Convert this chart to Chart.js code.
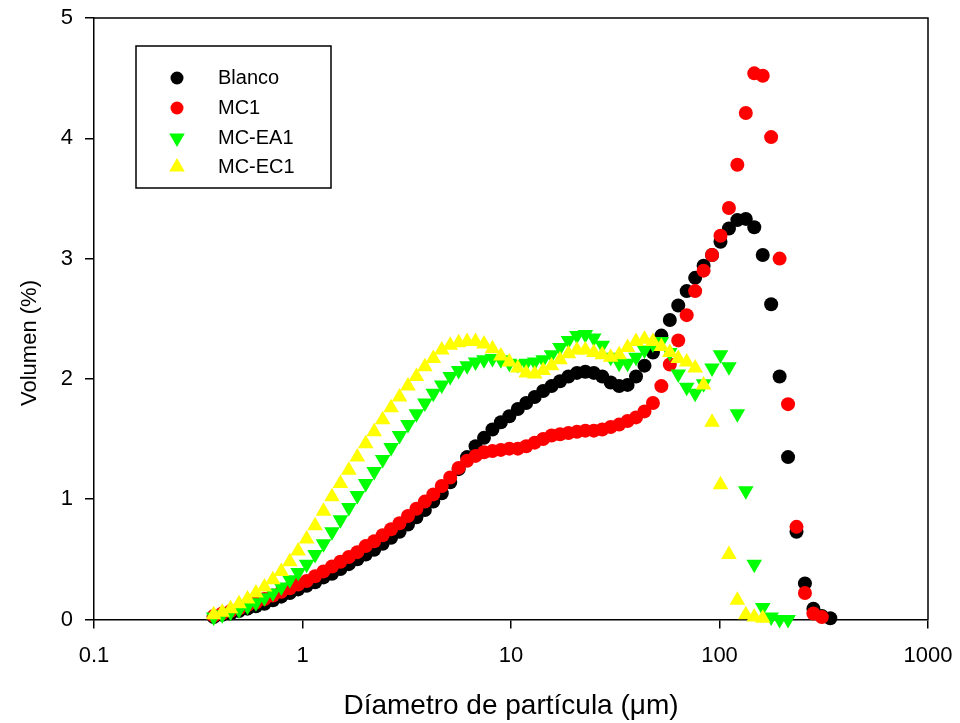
<!DOCTYPE html>
<html><head><meta charset="utf-8">
<script src="https://cdn.jsdelivr.net/npm/chart.js@4.4.1/dist/chart.umd.min.js"></script>
<style>html,body{margin:0;padding:0;background:#fff;} #wrap{width:960px;height:723px;position:relative;}</style>
</head><body><div id="wrap"><canvas id="c" width="960" height="723"></canvas></div>
<script>
// Particle size channels (µm)
const sizes = [0.375,0.412,0.452,0.496,0.545,0.598,0.657,0.721,0.791,0.869,0.953,1.047,1.149,1.261,1.385,1.520,1.668,1.832,2.010,2.207,2.423,2.660,2.920,3.205,3.519,3.863,4.240,4.655,5.110,5.610,6.158,6.760,7.421,8.147,8.943,9.817,10.78,11.83,12.99,14.26,15.65,17.18,18.86,20.71,22.73,24.95,27.39,30.07,33.01,36.24,39.78,43.67,47.94,52.62,57.77,63.41,69.61,76.42,83.89,92.09,101.1,111.0,121.8,133.7,146.8,161.2,176.9,194.2,213.2,234.1,256.9,282.1,309.6,339.9];

// Volume (%) per series
const blanco = [0.02,0.04,0.05,0.07,0.09,0.11,0.13,0.16,0.19,0.22,
  0.25,0.28,0.31,0.35,0.38,0.42,0.46,0.50,0.54,0.58,
  0.63,0.68,0.73,0.79,0.85,0.91,0.98,1.05,1.14,1.25,
  1.35,1.44,1.51,1.58,1.64,1.69,1.75,1.80,1.85,1.90,
  1.94,1.98,2.02,2.05,2.06,2.05,2.02,1.97,1.94,1.95,
  2.02,2.11,2.22,2.36,2.49,2.61,2.73,2.84,2.94,3.03,
  3.14,3.25,3.32,3.33,3.26,3.03,2.62,2.02,1.35,0.73,
  0.30,0.09,0.03,0.01];
const mc1 = [0.03,0.05,0.07,0.09,0.12,0.14,0.17,0.20,0.23,0.26,
  0.29,0.32,0.36,0.40,0.44,0.48,0.52,0.56,0.61,0.65,
  0.70,0.75,0.80,0.86,0.92,0.98,1.04,1.11,1.18,1.26,
  1.32,1.36,1.39,1.40,1.41,1.42,1.42,1.44,1.47,1.50,
  1.53,1.54,1.55,1.56,1.57,1.57,1.58,1.60,1.62,1.65,
  1.68,1.73,1.80,1.94,2.12,2.32,2.53,2.73,2.90,3.03,
  3.19,3.42,3.78,4.21,4.54,4.52,4.01,3.00,1.79,0.77,
  0.22,0.05,0.02];
const mcEA1 = [0.02,0.04,0.06,0.08,0.11,0.14,0.18,0.22,0.27,0.33,
  0.39,0.46,0.54,0.63,0.73,0.83,0.93,1.03,1.13,1.23,
  1.33,1.43,1.53,1.62,1.71,1.80,1.88,1.95,2.02,2.07,
  2.11,2.14,2.16,2.17,2.16,2.13,2.12,2.13,2.14,2.16,
  2.20,2.26,2.32,2.36,2.37,2.34,2.28,2.18,2.13,2.13,
  2.18,2.24,2.29,2.31,2.22,2.04,1.93,1.88,1.96,2.09,
  2.20,2.10,1.71,1.07,0.46,0.10,0.02,0.00,0.00];
const mcEC1 = [0.04,0.06,0.09,0.13,0.17,0.22,0.27,0.33,0.40,0.48,
  0.57,0.67,0.78,0.90,1.02,1.13,1.24,1.35,1.46,1.56,
  1.66,1.76,1.85,1.94,2.02,2.10,2.17,2.24,2.28,2.30,
  2.31,2.31,2.29,2.25,2.19,2.14,2.09,2.05,2.04,2.07,
  2.11,2.16,2.21,2.24,2.24,2.22,2.20,2.18,2.20,2.26,
  2.31,2.33,2.31,2.27,2.22,2.17,2.14,2.09,1.95,1.64,
  1.12,0.54,0.16,0.04,0.02,0.01];

const seriesNames = ['Blanco','MC1','MC-EA1','MC-EC1'];
const xTicks = [0.1, 1, 10, 100, 1000];
const yTicks = [0, 1, 2, 3, 4, 5];
const xTitle = 'Díametro de partícula (μm)';
const yTitle = 'Volumen (%)';

const FONT = "'Liberation Sans', Arial, sans-serif";
function pts(vals){ return vals.map((v,i)=>({x:sizes[i], y:v})); }

const styles = [
  {color:'#000000', pointStyle:'circle', rotation:0, radius:7, order:4},
  {color:'#ff0000', pointStyle:'circle', rotation:0, radius:7, order:3},
  {color:'#00ff00', pointStyle:'triangle', rotation:180, radius:9, order:2},
  {color:'#ffff00', pointStyle:'triangle', rotation:0, radius:9, order:1}
];
const allVals = [blanco, mc1, mcEA1, mcEC1];

const framePlugin = {
  id:'frame',
  beforeDatasetsDraw(chart){
    const {ctx, chartArea:a} = chart;
    ctx.save();
    ctx.strokeStyle = '#000'; ctx.lineWidth = 1.5;
    ctx.beginPath();
    ctx.moveTo(a.left, a.top); ctx.lineTo(a.right, a.top); ctx.lineTo(a.right, a.bottom);
    ctx.stroke();
    // y axis title
    ctx.fillStyle = '#000';
    ctx.font = '22px ' + FONT;
    ctx.translate(30, 343);
    ctx.rotate(-Math.PI/2);
    ctx.textAlign = 'center'; ctx.textBaseline = 'middle';
    ctx.fillText(yTitle, 0, 0);
    ctx.restore();
  },
  afterDraw(chart){
    const ctx = chart.ctx;
    ctx.save();
    ctx.fillStyle = '#fff';
    ctx.fillRect(136, 46, 195, 142);
    ctx.strokeStyle = '#000'; ctx.lineWidth = 1.5;
    ctx.strokeRect(136, 46, 195, 142);
    const rowsY = [78, 108, 138, 167];
    seriesNames.forEach((name, i) => {
      const s = styles[i];
      ctx.fillStyle = s.color;
      Chart.helpers.drawPoint(ctx, {pointStyle:s.pointStyle, rotation:s.rotation, radius: s.pointStyle==='circle'?6.5:9, borderWidth:0}, 177, rowsY[i]);
      ctx.fillStyle = '#000';
      ctx.font = '20px ' + FONT;
      ctx.textAlign = 'left'; ctx.textBaseline = 'middle';
      ctx.fillText(name, 218, rowsY[i]);
    });
    ctx.restore();
  }
};

new Chart(document.getElementById('c'), {
  type:'scatter',
  data:{ datasets: seriesNames.map((name,i)=>({
    label:name, data:pts(allVals[i]),
    backgroundColor:styles[i].color, borderColor:styles[i].color, borderWidth:0,
    pointStyle:styles[i].pointStyle, rotation:styles[i].rotation,
    pointRadius:styles[i].radius, pointHoverRadius:styles[i].radius,
    order:styles[i].order, clip:false, showLine:false
  }))},
  options:{
    responsive:false, animation:false, devicePixelRatio:1,
    layout:{padding:{left:0, right:32, top:18, bottom:0}},
    plugins:{legend:{display:false}, tooltip:{enabled:false}},
    scales:{
      x:{ type:'logarithmic', min:0.1, max:1000, position:'bottom',
        afterBuildTicks: s => { s.ticks = xTicks.map(v=>({value:v})); },
        afterFit: s => { s.height = 103.5; s.paddingLeft = 0; s.paddingRight = 0; },
        ticks:{ callback: v => String(v), font:{family:FONT, size:22}, color:'#000', padding:14, maxRotation:0, autoSkip:false },
        grid:{ drawOnChartArea:false, drawTicks:true, tickLength:9, color:'#000', lineWidth:1.5 },
        border:{ display:true, color:'#000', width:1.5 },
        title:{ display:true, text:xTitle, font:{family:FONT, size:28}, color:'#000', padding:{top:0, bottom:0} }
      },
      y:{ type:'linear', min:0, max:5, position:'left',
        afterBuildTicks: s => { s.ticks = yTicks.map(v=>({value:v})); },
        afterFit: s => { s.width = 94; s.paddingTop = 0; s.paddingBottom = 0; },
        ticks:{ font:{family:FONT, size:22}, color:'#000', padding:12 },
        grid:{ drawOnChartArea:false, drawTicks:true, tickLength:9, color:'#000', lineWidth:1.5 },
        border:{ display:true, color:'#000', width:1.5 },
        title:{ display:false, text:yTitle }
      }
    }
  },
  plugins:[framePlugin]
});
</script></body></html>
